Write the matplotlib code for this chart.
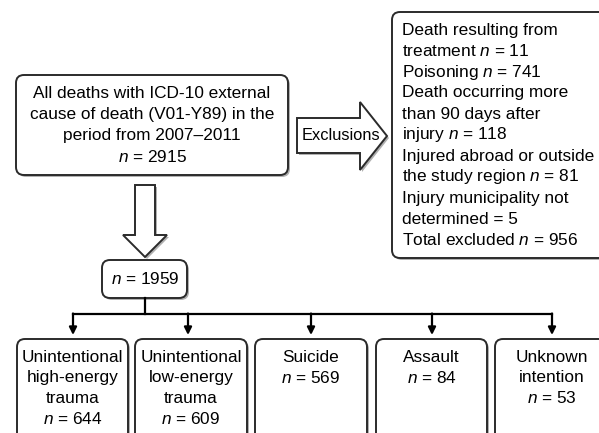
import matplotlib
matplotlib.use("Agg")
import matplotlib.pyplot as plt
from matplotlib.patches import FancyBboxPatch, Polygon

plt.rcParams['font.family'] = ['Liberation Sans', 'DejaVu Sans']
plt.rcParams['mathtext.fontset'] = 'custom'
plt.rcParams['mathtext.rm'] = 'Liberation Sans'
plt.rcParams['mathtext.it'] = 'Liberation Sans:italic'

# ---- data ----
main_lines = ["All deaths with ICD-10 external", "cause of death (V01-Y89) in the",
              "period from 2007\u20132011"]
n_total = 2915
excl_reasons = [["Death resulting from", "treatment"], ["Poisoning"],
                ["Death occurring more", "than 90 days after", "injury"],
                ["Injured abroad or outside", "the study region"],
                ["Injury municipality not", "determined"]]
excl_counts = [11, 741, 118, 81, 5]
excl_show_n = [True, True, True, True, False]
n_included = n_total - sum(excl_counts)
categories = [["Unintentional", "high-energy", "trauma"],
              ["Unintentional", "low-energy", "trauma"],
              ["Suicide"], ["Assault"], ["Unknown", "intention"]]
cat_counts = [644, 609, 569, 84, 53]

FS = 12.4
EDGE = '#2b2b2b'
SHADOW = '#b0b0b0'

fig = plt.figure(figsize=(5.99, 4.33), dpi=100)
ax = fig.add_axes([0, 0, 1, 1])
ax.set_xlim(0, 599)
ax.set_ylim(433, 0)
ax.axis('off')


def rbox(x0, y0, x1, y1, r=8):
    sh = FancyBboxPatch((x0 + 2, y0 + 2), x1 - x0, y1 - y0,
                        boxstyle=f"round,pad=0,rounding_size={r}",
                        fc=SHADOW, ec='none', zorder=1)
    ax.add_patch(sh)
    b = FancyBboxPatch((x0, y0), x1 - x0, y1 - y0,
                       boxstyle=f"round,pad=0,rounding_size={r}",
                       fc='white', ec=EDGE, lw=1.4, zorder=2)
    ax.add_patch(b)


def nlab(v, show=True):
    return f"$n$ = {v}" if show else f"= {v}"


# main box
rbox(16, 75, 288, 175)
lines = main_lines + [nlab(n_total)]
for i, t in enumerate(lines):
    ax.text(152, 93 + i * 21.3, t, ha='center', va='center', fontsize=FS, zorder=3)

# exclusions arrow
arrow_pts = [(297, 118), (360, 118), (360, 102), (387, 136), (360, 170), (360, 153), (297, 153)]
ax.add_patch(Polygon([(p[0] + 2, p[1] + 2) for p in arrow_pts], closed=True,
                     fc=SHADOW, ec='none', zorder=1))
ax.add_patch(Polygon(arrow_pts, closed=True, fc='white', ec=EDGE, lw=1.4, zorder=2))
ax.text(341, 136, "Exclusions", ha='center', va='center', fontsize=11.8, zorder=3)

# exclusion box
rbox(392, 12, 640, 258)
excl_lines = []
for reason, c, s in zip(excl_reasons, excl_counts, excl_show_n):
    excl_lines += reason[:-1] + [reason[-1] + " " + nlab(c, s)]
excl_lines.append("Total excluded " + nlab(sum(excl_counts)))
for i, t in enumerate(excl_lines):
    ax.text(402, 30 + i * 21.0, t, ha='left', va='center', fontsize=FS, zorder=3)

# down block arrow
down = [(135, 185), (155, 185), (155, 235), (167, 235), (145, 257), (123, 235), (135, 235)]
ax.add_patch(Polygon([(p[0] + 2, p[1] + 2) for p in down], closed=True, fc=SHADOW,
                     ec='none', zorder=1))
ax.add_patch(Polygon(down, closed=True, fc='white', ec=EDGE, lw=1.4, zorder=2))

# included box
rbox(102, 260, 187, 298)
ax.text(145, 279, nlab(n_included), ha='center', va='center', fontsize=FS, zorder=3)

# connectors
box_x = [(17, 128), (135, 247), (255, 367), (376, 487), (495, 640)]
arrow_x = [73, 188, 311, 432, 552]
ax.plot([145, 145], [298, 314], color='black', lw=1.6, zorder=2)
ax.plot([arrow_x[0], arrow_x[-1]], [314, 314], color='black', lw=1.6, zorder=2,
        solid_capstyle='projecting')
for xa in arrow_x:
    ax.annotate("", xy=(xa, 335), xytext=(xa, 313.5),
                arrowprops=dict(arrowstyle='-|>', color='black', lw=1.6,
                                mutation_scale=11, shrinkA=0, shrinkB=0), zorder=3)

# category boxes
for (x0, x1), cat, c, xa in zip(box_x, categories, cat_counts, arrow_x):
    rbox(x0, 339, x1, 460)
    cx = (x0 + x1) / 2 if x1 < 600 else xa
    for i, t in enumerate(cat + [nlab(c)]):
        ax.text(cx, 357 + i * 20.6, t, ha='center', va='center', fontsize=FS, zorder=3)

fig.savefig("out.png", dpi=100)
